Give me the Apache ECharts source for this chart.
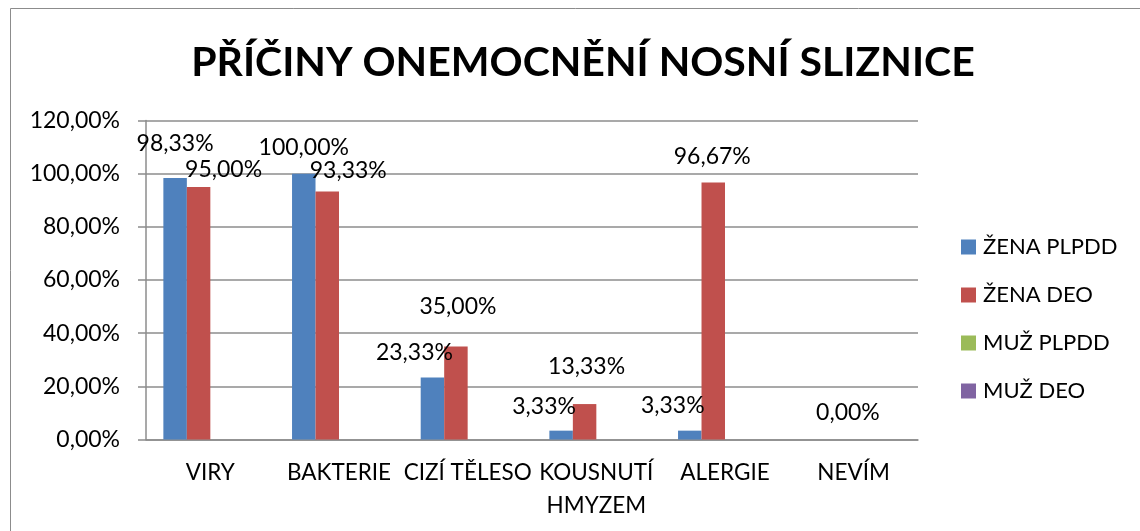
<!DOCTYPE html>
<html>
<head>
<meta charset="utf-8">
<script src="https://cdn.jsdelivr.net/npm/echarts@6/dist/echarts.min.js"></script>
<style>
  html, body { margin: 0; padding: 0; background: #ffffff; }
  #chart { width: 1140px; height: 531px; }
</style>
</head>
<body>
<div id="chart"></div>
<script>
// data (percent)
const categories = ['VIRY', 'BAKTERIE', 'CIZÍ TĚLESO', 'KOUSNUTÍ\nHMYZEM', 'ALERGIE', 'NEVÍM']
const seriesNames = ['ŽENA PLPDD', 'ŽENA DEO', 'MUŽ PLPDD', 'MUŽ DEO']
const zenaPlpdd = [98.33, 100, 23.33, 3.33, 3.33, 0]
const zenaDeo = [95, 93.33, 35, 13.33, 96.67, 0]
const muzPlpdd = [null, null, null, null, null, null]
const muzDeo = [null, null, null, null, null, null]
const yTicks = [0, 20, 40, 60, 80, 100, 120]

// the labels were dragged by hand in the original: [dx, dy] of text centre from bar top
const labelShift = {
  'ŽENA PLPDD': [[0, -35], [0, -26], [-18, -25], [-17, -24], [-17, -25], null],
  'ŽENA DEO': [[25, -17], [21, -21], [2, -40], [2, -37], [-1, -26], [6, -27]]
}

const colors = ['#4F81BD', '#C0504D', '#9BBB59', '#8064A2']
const font = 'Lato, "Noto Sans", sans-serif'
const fmt = (v) => v.toFixed(2).replace('.', ',') + '%'
const LH = 26

function buildData(name, values) {
  const shifts = labelShift[name] || []
  return values.map((v, i) => {
    const s = shifts[i]
    if (v === null || !s) return { value: v, label: { show: false } }
    return {
      value: v,
      label: { show: true, offset: [s[0], s[1] + LH / 2] }
    }
  })
}

const chart = echarts.init(document.getElementById('chart'))
const option = {
  backgroundColor: '#ffffff',
  color: colors,
  animation: false,
  title: {
    text: 'PŘÍČINY ONEMOCNĚNÍ NOSNÍ SLIZNICE',
    left: 578,
    textAlign: 'center',
    top: 37,
    textStyle: { fontFamily: font, fontSize: 41, fontWeight: 'bold', color: '#000' }
  },
  graphic: [
    {
      type: 'rect',
      shape: { x: 10.5, y: 8.5, width: 1200, height: 600 },
      style: { fill: 'none', stroke: '#8c8c8c', lineWidth: 1 },
      silent: true
    }
  ],
  legend: {
    orient: 'vertical',
    left: 956,
    top: 230,
    itemWidth: 15,
    itemHeight: 15,
    itemGap: 24,
    icon: 'rect',
    data: seriesNames,
    textStyle: { fontFamily: font, fontSize: 22, color: '#000', lineHeight: 24, padding: [0, 0, 0, 2] }
  },
  grid: { left: 146, right: 222, top: 120.5, bottom: 91.5 },
  xAxis: {
    type: 'category',
    data: categories,
    axisLine: { lineStyle: { color: '#8c8c8c', width: 1.5 } },
    axisTick: { length: 8, lineStyle: { color: '#8c8c8c', width: 1.5 } },
    axisLabel: { fontFamily: font, fontSize: 22.5, color: '#000', lineHeight: 33, margin: 17, interval: 0 }
  },
  yAxis: {
    type: 'value',
    min: yTicks[0],
    max: yTicks[yTicks.length - 1],
    interval: yTicks[1] - yTicks[0],
    axisLine: { show: true, lineStyle: { color: '#8c8c8c', width: 1.5 } },
    axisTick: { show: true, length: 8, lineStyle: { color: '#8c8c8c', width: 1.5 } },
    splitLine: { lineStyle: { color: '#8c8c8c', width: 1.5 } },
    axisLabel: { fontFamily: font, fontSize: 23, color: '#000', margin: 26, formatter: fmt }
  },
  series: [
    { name: seriesNames[0], values: zenaPlpdd },
    { name: seriesNames[1], values: zenaDeo },
    { name: seriesNames[2], values: muzPlpdd },
    { name: seriesNames[3], values: muzDeo }
  ].map((s) => ({
    name: s.name,
    type: 'bar',
    barGap: '0%',
    barCategoryGap: '27%',
    data: buildData(s.name, s.values),
    label: {
      position: 'top',
      distance: 0,
      fontFamily: font,
      fontSize: 23,
      lineHeight: LH,
      color: '#000',
      formatter: (p) => fmt(p.value)
    }
  }))
}
chart.setOption(option)
</script>
</body>
</html>
